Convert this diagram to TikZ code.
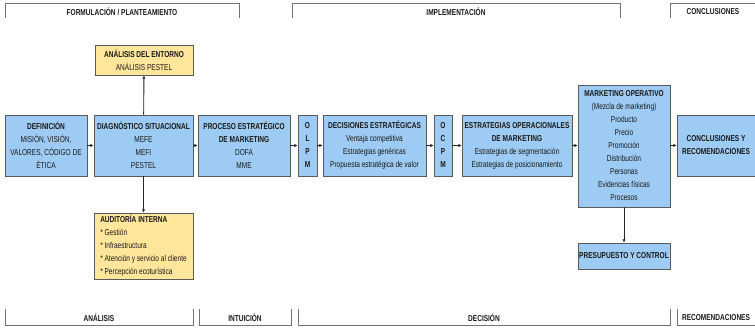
\documentclass[tikz,border=0pt]{standalone}
\usepackage{fontspec}
\setmainfont{Liberation Sans}[FakeStretch=0.76]
\usetikzlibrary{arrows.meta}
\definecolor{bxblue}{HTML}{9DCBF3}
\definecolor{bxyellow}{HTML}{FFE69A}
\definecolor{bxline}{HTML}{5A5A5A}
\definecolor{txt}{HTML}{1A1A1A}
\tikzset{
  bx/.style={draw=bxline, line width=0.9pt, fill=bxblue, inner sep=0.5pt, align=center,
    font=\fontsize{8.6}{13}\selectfont, text=txt},
  ybx/.style={bx, fill=bxyellow},
  arr/.style={draw=black!85, line width=0.9pt, -{Latex[length=3.2pt,width=3.2pt]}},
  brk/.style={draw=black!55, line width=0.9pt},
  lbl/.style={font=\fontsize{8.6}{9}\selectfont\bfseries, text=txt, inner sep=0pt},
}
\begin{document}
\begin{tikzpicture}[x=1pt,y=-1pt]
\useasboundingbox (0,0) rectangle (755,328);
% top brackets
\draw[brk] (5,18) -- (5,3) -- (239,3) -- (239,18);
\node[lbl] (tf) at (122,12) {FORMULACIÓN / PLANTEAMIENTO};
\draw[brk] (292,18) -- (292,3) -- (620,3) -- (620,18);
\node[lbl] (ti) at (456,12) {IMPLEMENTACIÓN};
\draw[brk] (670,18) -- (670,3) -- (756,3);
\node[lbl] (tc) at (713,12) {CONCLUSIONES};
% bottom brackets
\draw[brk] (5,309) -- (5,325) -- (193,325) -- (193,309);
\node[lbl] (ba) at (99,318) {ANÁLISIS};
\draw[brk] (199,309) -- (199,325) -- (291,325) -- (291,309);
\node[lbl] (bi) at (245,318) {INTUICIÓN};
\draw[brk] (298,309) -- (298,325) -- (670,325) -- (670,309);
\node[lbl] (bd) at (484,318) {DECISIÓN};
\draw[brk] (677,309) -- (677,325) -- (756,325);
\node[lbl] (br) at (716,318) {RECOMENDACIONES};
% boxes
\node[bx, minimum width=82pt, minimum height=61pt] (def) at (46,145.5)
  {\textbf{DEFINICIÓN}\\MISIÓN, VISIÓN,\\VALORES, CÓDIGO DE\\ÉTICA};
\node[bx, minimum width=99pt, minimum height=61pt] (diag) at (143.5,145.5)
  {\textbf{DIAGNÓSTICO SITUACIONAL}\\MEFE\\MEFI\\PESTEL};
\node[ybx, minimum width=98pt, minimum height=30pt] (ent) at (144,60)
  {\textbf{ANÁLISIS DEL ENTORNO}\\ANÁLISIS PESTEL};
\node[ybx, minimum width=99pt, minimum height=66pt, align=left] (aud) at (143.5,246)
  {\textbf{AUDITORÍA INTERNA}\\* Gestión\\* Infraestructura\\* Atención y servicio al cliente\\* Percepción ecoturística};
\node[bx, minimum width=92pt, minimum height=61pt] (proc) at (244,145.5)
  {\textbf{PROCESO ESTRATÉGICO}\\\textbf{DE MARKETING}\\DOFA\\MME};
\node[bx, minimum width=19pt, minimum height=61pt, font=\fontsize{8.6}{13}\selectfont\bfseries] (olpm) at (307.5,145.5)
  {O\\L\\P\\M};
\node[bx, minimum width=103pt, minimum height=61pt] (dec) at (374.5,145.5)
  {\textbf{DECISIONES ESTRATÉGICAS}\\Ventaja competitiva\\Estrategias genéricas\\Propuesta estratégica de valor};
\node[bx, minimum width=18pt, minimum height=61pt, font=\fontsize{8.6}{13}\selectfont\bfseries] (ocpm) at (443,145.5)
  {O\\C\\P\\M};
\node[bx, minimum width=110pt, minimum height=61pt] (eop) at (517,145.5)
  {\textbf{ESTRATEGIAS OPERACIONALES}\\\textbf{DE MARKETING}\\Estrategias de segmentación\\Estrategias de posicionamiento};
\node[bx, minimum width=92pt, minimum height=122pt] (mop) at (624,146)
  {\textbf{MARKETING OPERATIVO}\\(Mezcla de marketing)\\Producto\\Precio\\Promoción\\Distribución\\Personas\\Evidencias físicas\\Procesos};
\node[bx, minimum width=78pt, minimum height=61pt] (conc) at (716,145.5)
  {\textbf{CONCLUSIONES Y}\\\textbf{RECOMENDACIONES}};
\node[bx, minimum width=92pt, minimum height=26pt] (pres) at (624,256)
  {\textbf{PRESUPUESTO Y CONTROL}};
% connectors
\draw[arr] (def) -- (diag);
\draw[arr] (diag) -- (proc);
\draw[arr] (proc) -- (olpm);
\draw[arr] (olpm) -- (dec);
\draw[arr] (dec) -- (ocpm);
\draw[arr] (ocpm) -- (eop);
\draw[arr] (eop.east) -- (mop.west |- eop.east);
\draw[arr] (mop.east |- conc.west) -- (conc.west);
\draw[arr] (diag) -- (ent);
\draw[arr] (diag) -- (aud);
\draw[arr] (mop) -- (pres);
\end{tikzpicture}
\end{document}
